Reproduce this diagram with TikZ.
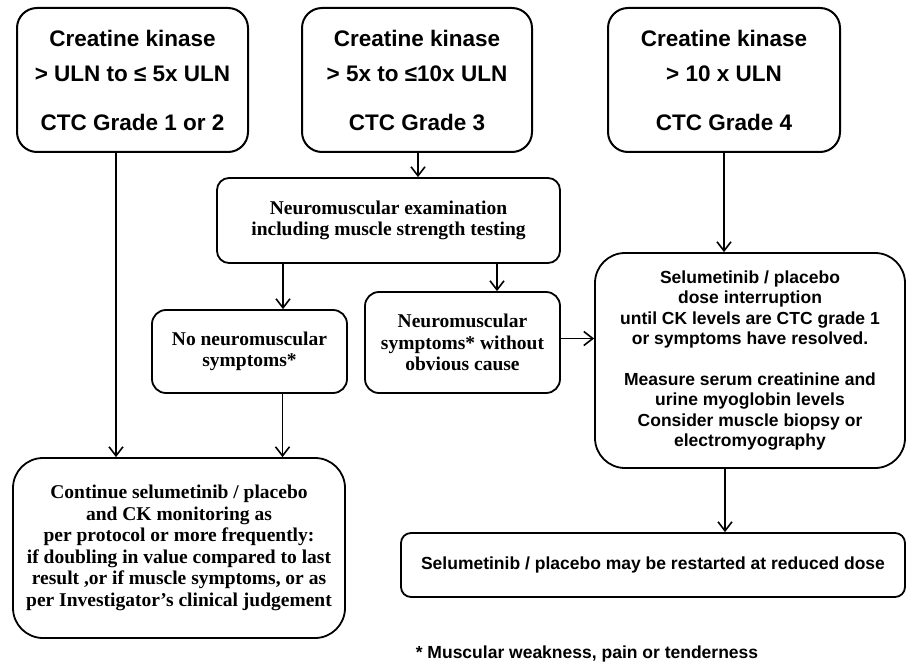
\documentclass[tikz,border=0pt]{standalone}
\usepackage{fontspec}
\setmainfont{Liberation Sans}
\newfontfamily\ckserif{Liberation Serif}
\usetikzlibrary{arrows.meta}

\tikzset{
  gradebox/.style={draw, line width=2pt, rounded corners=20pt, align=center,
    font=\bfseries\fontsize{22.5}{35}\selectfont},
  serifbox/.style={draw, line width=1.8pt, align=center,
    font=\ckserif\bfseries\fontsize{19.5}{21.5}\selectfont},
  sansbox/.style={draw, line width=1.8pt, align=center,
    font=\bfseries\fontsize{17.5}{20.5}\selectfont},
  arr/.style={line width=1.6pt, -{Straight Barb[length=9pt,width=14pt]}}
}

\begin{document}
\begin{tikzpicture}[x=1pt, y=-1pt]
\useasboundingbox (0,0) rectangle (910,663);

% CK grade boxes
\node[gradebox, minimum width=231pt, minimum height=144pt] (ck12) at (132.5,80)
  {Creatine kinase\\ > ULN to ≤ 5x ULN\\[14pt] CTC Grade 1 or 2};
\node[gradebox, minimum width=230pt, minimum height=144pt] (ck3) at (417,80)
  {Creatine kinase\\ > 5x to ≤10x ULN\\[14pt] CTC Grade 3};
\node[gradebox, minimum width=232pt, minimum height=144pt] (ck4) at (724,80)
  {Creatine kinase\\ > 10 x ULN\\[14pt] CTC Grade 4};

% neuromuscular branch
\node[serifbox, rounded corners=12pt, minimum width=343pt, minimum height=85pt] (exam) at (388.5,220.5)
  {Neuromuscular examination\\ including muscle strength testing};
\node[serifbox, rounded corners=14pt, minimum width=195pt, minimum height=83pt] (nosym) at (249.5,351.5)
  {No neuromuscular\\ symptoms*};
\node[serifbox, rounded corners=14pt, minimum width=195pt, minimum height=101pt] (sym) at (462.5,342.5)
  {Neuromuscular\\ symptoms* without\\ obvious cause};

% outcomes
\node[sansbox, rounded corners=30pt, minimum width=310pt, minimum height=215pt] (stop) at (750,360.5)
  {Selumetinib / placebo\\ dose interruption\\ until CK levels are CTC grade 1\\ or symptoms have resolved.\\[20pt]
   Measure serum creatinine and\\ urine myoglobin levels\\ Consider muscle biopsy or\\ electromyography};
\node[serifbox, rounded corners=30pt, minimum width=332pt, minimum height=180pt] (cont) at (179,548)
  {Continue selumetinib / placebo\\ and CK monitoring as\\ per protocol or more frequently:\\
   if doubling in value compared to last\\ result ,or if muscle symptoms, or as\\ per Investigator’s clinical judgement};
\node[sansbox, rounded corners=10pt, minimum width=504pt, minimum height=64pt] (restart) at (653,565)
  {Selumetinib / placebo may be restarted at reduced dose};

\node[font=\bfseries\fontsize{17.5}{20.5}\selectfont] (note) at (587,654)
  {* Muscular weakness, pain or tenderness};

% connectors
\draw[arr] ([xshift=-16.5pt]ck12.south) -- ([xshift=-16.5pt]ck12.south |- cont.north);
\draw[arr] ([xshift=1pt]ck3.south) -- ([xshift=1pt]ck3.south |- exam.north);
\draw[arr] ([xshift=33.5pt]nosym.north |- exam.south) -- ([xshift=33.5pt]nosym.north);
\draw[arr] ([xshift=34.5pt]sym.north |- exam.south) -- ([xshift=34.5pt]sym.north);
\draw[arr] ([yshift=4pt]sym.east) -- ([yshift=4pt]sym.east -| stop.west);
\draw[arr] (ck4.south) -- (ck4.south |- stop.north);
\draw[arr] ([xshift=33pt]nosym.south) -- ([xshift=33pt]nosym.south |- cont.north);
\draw[arr] ([xshift=-25pt]stop.south) -- ([xshift=-25pt]stop.south |- restart.north);
\end{tikzpicture}
\end{document}
